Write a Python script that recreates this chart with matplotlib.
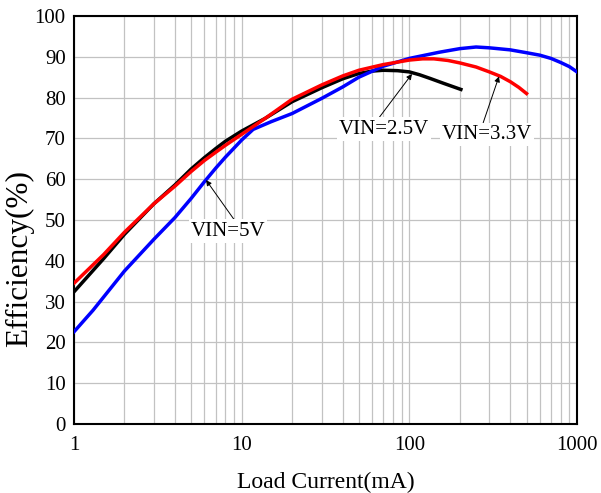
import matplotlib
matplotlib.use("Agg")
import matplotlib.pyplot as plt
from matplotlib.ticker import FixedLocator, LogLocator, NullFormatter

# ---- data ----
x_25 = [1, 1.5, 2, 3, 4, 5, 6, 7, 8, 10, 13.8, 20, 30, 40, 50, 60, 70, 85, 100, 115,
        133, 160, 203]
y_25 = [32.4, 40.5, 46.5, 54.0, 58.6, 62.5, 65.3, 67.5, 69.3, 71.8, 74.9, 79.0, 82.4,
        84.6, 85.9, 86.5, 86.7, 86.6, 86.3, 85.6, 84.7, 83.5, 82.0]

x_33 = [1, 1.5, 2, 3, 4, 5, 6, 7, 8, 10, 13.8, 20, 30, 40, 50, 70, 100, 120, 140, 170,
        200, 250, 300, 350, 400, 450, 500]
y_33 = [34.5, 41.5, 47.0, 54.0, 58.3, 61.9, 64.6, 66.6, 68.3, 71.0, 74.9, 79.6, 83.1,
        85.3, 86.7, 88.1, 89.2, 89.5, 89.5, 89.1, 88.5, 87.5, 86.3, 85.2, 83.9, 82.5, 81.0]

x_5 = [1, 1.3, 2, 3, 4, 5, 6, 7, 8, 10, 11.7, 15, 20, 30, 40, 50, 70, 100, 150, 200, 250,
       300, 400, 500, 600, 700, 800, 900, 1000]
y_5 = [22.6, 27.9, 37.5, 45.3, 50.6, 55.3, 59.4, 62.7, 65.4, 69.6, 72.2, 74.1, 76.1,
       79.8, 82.6, 85.0, 87.7, 89.6, 91.1, 92.0, 92.4, 92.2, 91.7, 91.0, 90.4, 89.6, 88.6,
       87.6, 86.3]

x_ticks = [1, 10, 100, 1000]
x_ticklabels = ["1", "10", "100", "1000"]
y_ticks = [0, 10, 20, 30, 40, 50, 60, 70, 80, 90, 100]

labels = ["VIN=2.5V", "VIN=3.3V", "VIN=5V"]

plt.rcParams['font.family'] = ['Liberation Serif', 'DejaVu Serif']

fig = plt.figure(figsize=(6.01, 4.93), dpi=100)
ax = fig.add_axes([74/601, 69/493, 503/601, 408/493])

ax.set_xscale('log')
ax.set_xlim(1, 1000)
ax.set_ylim(0, 100)

ax.xaxis.set_major_locator(FixedLocator(x_ticks))
ax.set_xticklabels(x_ticklabels)
ax.xaxis.set_minor_locator(LogLocator(base=10, subs=range(2, 10)))
ax.xaxis.set_minor_formatter(NullFormatter())
ax.set_yticks(y_ticks)

gcol = '#c2c2c2'
ax.grid(True, which='major', axis='both', color=gcol, lw=0.9)
ax.grid(True, which='minor', axis='x', color=gcol, lw=0.9)
ax.set_axisbelow(True)

ax.tick_params(axis='both', which='both', length=0, labelsize=15)
ax.tick_params(axis='x', pad=9)
ax.tick_params(axis='y', pad=6)

for s in ax.spines.values():
    s.set_linewidth(1.5)
    s.set_color('black')

ax.plot(x_25, y_25, color='black', lw=2.5, zorder=3, solid_joinstyle='round')
ax.plot(x_5, y_5, color='#0000ff', lw=2.5, zorder=3, solid_joinstyle='round')
ax.plot(x_33, y_33, color='#ff0000', lw=2.5, zorder=4, solid_joinstyle='round')

ax.set_xlabel("Load Current(mA)", fontsize=17, labelpad=12)
ax.set_ylabel("Efficiency(%)", fontsize=22.5)
ax.yaxis.set_label_coords(-0.08, 0.405)

bbox = dict(boxstyle='square,pad=0.1', fc='white', ec='none')
def ann(text, xy, xytext, rx):
    ax.annotate(text, xy=xy, xytext=xytext, textcoords='data',
                ha='center', va='center', fontsize=15, bbox=bbox, zorder=5,
                arrowprops=dict(arrowstyle='-|>', color='black', lw=0.7,
                                mutation_scale=8, shrinkA=0, shrinkB=0,
                                relpos=(rx, 1.0)))

ann(labels[0], (103.7, 85.8), (70.6, 72.3), 0.43)
ann(labels[1], (342.6, 85.2), (290.5, 71.0), 0.45)
ann(labels[2], (6.13, 59.8), (8.29, 47.3), 0.6)

fig.savefig("out.png", dpi=100)
